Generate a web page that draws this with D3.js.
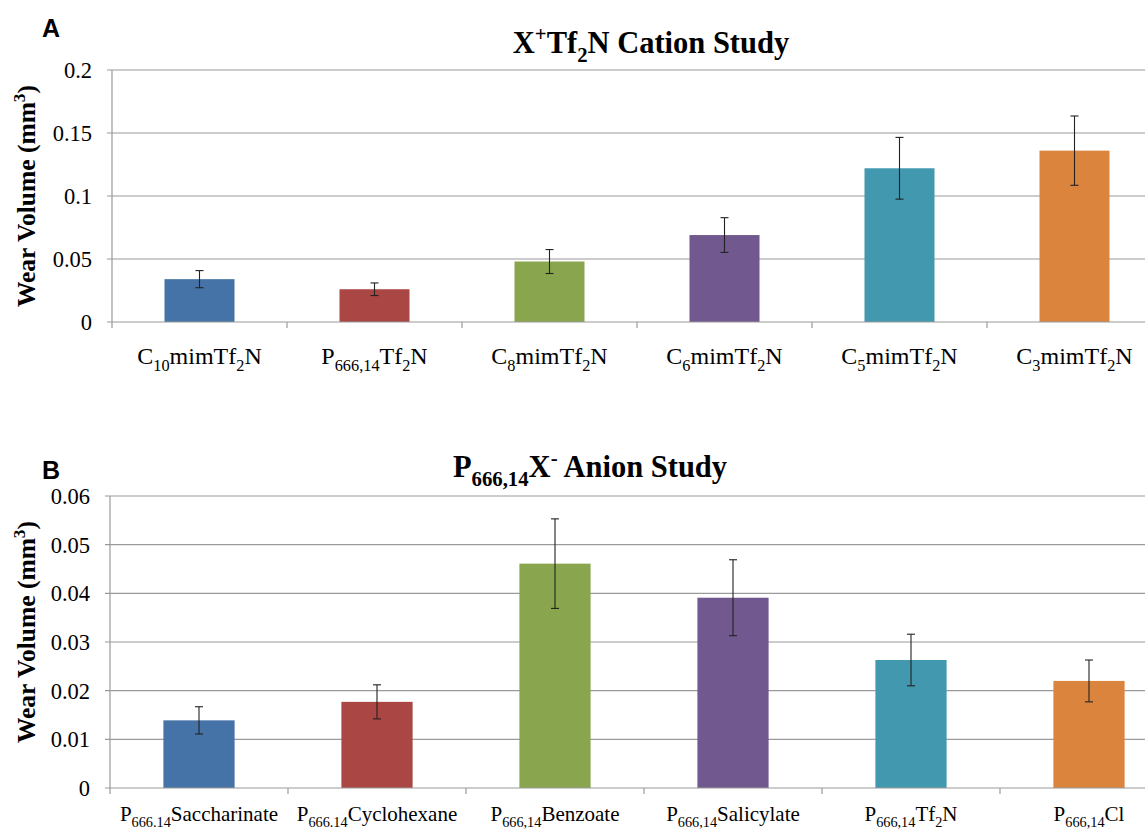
<!DOCTYPE html>
<html>
<head>
<meta charset="utf-8">
<script src="https://cdn.jsdelivr.net/npm/d3@7"></script>
<style>
  body { margin: 0; background: #fff; }
  svg { display: block; }
</style>
</head>
<body>
<svg width="1145" height="829"></svg>
<script>
// markup: _{..} = subscript, ^{..} = superscript
let cationNames = ['C_{10}mimTf_{2}N', 'P_{666,14}Tf_{2}N', 'C_{8}mimTf_{2}N', 'C_{6}mimTf_{2}N', 'C_{5}mimTf_{2}N', 'C_{3}mimTf_{2}N'];
let cationWear = [0.034, 0.026, 0.048, 0.069, 0.122, 0.136];
let cationErr = [0.0068, 0.005, 0.0095, 0.0138, 0.0245, 0.0275];
let cationTicks = [0, 0.05, 0.1, 0.15, 0.2];

let anionNames = ['P_{666.14}Saccharinate', 'P_{666.14}Cyclohexane', 'P_{666,14}Benzoate', 'P_{666,14}Salicylate', 'P_{666,14}Tf_{2}N', 'P_{666,14}Cl'];
let anionWear = [0.0139, 0.0177, 0.0461, 0.0391, 0.0263, 0.0220];
let anionErr = [0.0028, 0.0035, 0.0092, 0.0078, 0.0053, 0.0043];
let anionTicks = [0, 0.01, 0.02, 0.03, 0.04, 0.05, 0.06];

let barColors = ['#4572A7', '#AA4643', '#89A54E', '#71588F', '#4198AF', '#DB843D'];

let svg = d3.select('svg');
let serif = '"Liberation Serif", "Times New Roman", Times, serif';

function richText(sel, str, size) {
  let parts = str.split(/(_\{[^}]*\}|\^\{[^}]*\})/).filter(function(p) { return p.length; });
  let shift = 0;
  parts.forEach(function(p) {
    let t = sel.append('tspan');
    let target = 0;
    if (p[0] == '_') { target = size * 0.3; p = p.slice(2, -1); t.attr('font-size', size * 0.68); }
    else if (p[0] == '^') { target = -size * 0.38; p = p.slice(2, -1); t.attr('font-size', size * 0.68); }
    t.attr('dy', target - shift).text(p);
    shift = target;
  });
}

function drawChart(opt) {
  let y = d3.scaleLinear().domain([0, opt.max]).range([opt.bottom, opt.top]);
  let x = d3.scaleBand().domain(opt.names).range([opt.left, opt.left + opt.names.length * opt.step]);
  let g = svg.append('g');

  // gridlines
  g.append('g').selectAll('line').data(opt.ticks.slice(1)).enter().append('line')
    .attr('x1', opt.left - 5).attr('x2', 1145)
    .attr('y1', function(d) { return y(d); }).attr('y2', function(d) { return y(d); })
    .attr('stroke', '#9a9a9a').attr('stroke-width', 1.2);

  // y axis line
  g.append('line').attr('x1', opt.left).attr('x2', opt.left)
    .attr('y1', opt.top).attr('y2', opt.bottom)
    .attr('stroke', '#9a9a9a').attr('stroke-width', 1.2);

  // tick labels
  g.append('g').selectAll('text').data(opt.ticks).enter().append('text')
    .attr('x', opt.left - 20).attr('y', function(d) { return y(d) + 8; })
    .attr('text-anchor', 'end').attr('font-family', serif).attr('font-size', 22.5)
    .text(function(d) { return d; });

  // bars
  let bw = x.bandwidth() * 0.4;
  g.append('g').selectAll('rect').data(opt.values).enter().append('rect')
    .attr('x', function(d, i) { return x(opt.names[i]) + (x.bandwidth() - bw) / 2; })
    .attr('y', function(d) { return y(d); })
    .attr('width', bw)
    .attr('height', function(d) { return y(0) - y(d); })
    .attr('fill', function(d, i) { return barColors[i]; });

  // x axis + ticks
  g.append('line').attr('x1', opt.left - 5).attr('x2', 1145)
    .attr('y1', y(0)).attr('y2', y(0))
    .attr('stroke', '#9a9a9a').attr('stroke-width', 1.2);
  g.append('g').selectAll('line').data(opt.names).enter().append('line')
    .attr('x1', function(d) { return x(d); }).attr('x2', function(d) { return x(d); })
    .attr('y1', y(0)).attr('y2', y(0) + 6)
    .attr('stroke', '#9a9a9a').attr('stroke-width', 1.2);

  // error bars
  let eb = g.append('g').attr('stroke', '#222').attr('stroke-width', 1.1);
  opt.values.forEach(function(v, i) {
    let cx = x(opt.names[i]) + x.bandwidth() / 2;
    let hi = y(v + opt.errs[i]), lo = y(v - opt.errs[i]);
    eb.append('line').attr('x1', cx).attr('x2', cx).attr('y1', hi).attr('y2', lo);
    eb.append('line').attr('x1', cx - 4).attr('x2', cx + 4).attr('y1', hi).attr('y2', hi);
    eb.append('line').attr('x1', cx - 4).attr('x2', cx + 4).attr('y1', lo).attr('y2', lo);
  });

  // category labels
  opt.names.forEach(function(n) {
    let t = g.append('text')
      .attr('x', x(n) + x.bandwidth() / 2).attr('y', opt.labelY)
      .attr('text-anchor', 'middle').attr('font-family', serif).attr('font-size', opt.labelSize);
    richText(t, n, opt.labelSize);
  });

  // y axis title
  let yt = g.append('text')
    .attr('transform', 'translate(' + opt.yTitleX + ',' + opt.yTitleY + ') rotate(-90)')
    .attr('text-anchor', 'middle').attr('font-family', serif).attr('font-size', 25.5).attr('font-weight', 'bold');
  richText(yt, 'Wear Volume (mm^{3})', 25.5);

  // chart title
  let tt = g.append('text').attr('x', opt.titleX).attr('y', opt.titleY)
    .attr('text-anchor', 'middle').attr('font-family', serif).attr('font-size', 30.5).attr('font-weight', 'bold');
  richText(tt, opt.title, 30.5);

  // panel letter
  g.append('text').attr('x', 42).attr('y', opt.letterY)
    .attr('font-family', '"Liberation Sans", Arial, sans-serif').attr('font-size', 25).attr('font-weight', 'bold')
    .text(opt.letter);
}

drawChart({
  names: cationNames, values: cationWear, errs: cationErr, ticks: cationTicks, max: 0.2,
  left: 112, step: 175, top: 70, bottom: 322, labelY: 364, labelSize: 24, yTitleX: 35, yTitleY: 196,
  title: 'X^{+}Tf_{2}N Cation Study', titleX: 651, titleY: 53, letter: 'A', letterY: 37
});

drawChart({
  names: anionNames, values: anionWear, errs: anionErr, ticks: anionTicks, max: 0.06,
  left: 110, step: 178, top: 496, bottom: 788, labelY: 821, labelSize: 21, yTitleX: 35, yTitleY: 632,
  title: 'P_{666,14}X^{-} Anion Study', titleX: 590, titleY: 477, letter: 'B', letterY: 479
});
</script>
</body>
</html>
